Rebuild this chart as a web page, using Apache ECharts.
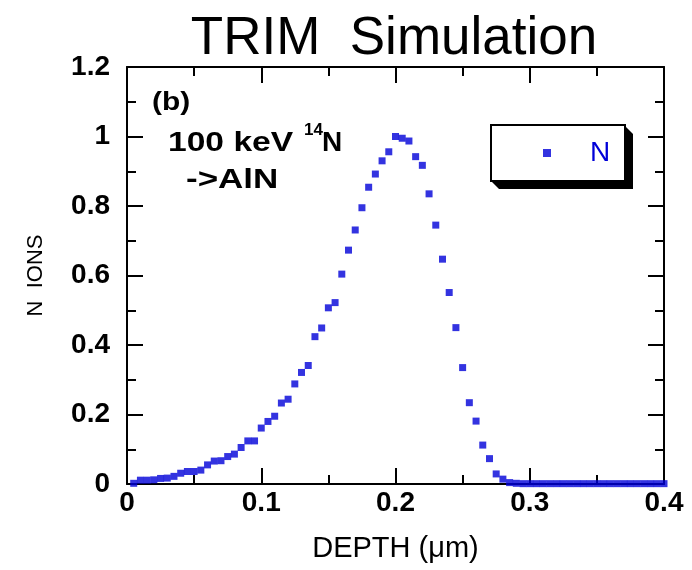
<!DOCTYPE html>
<html>
<head>
<meta charset="utf-8">
<script src="https://cdn.jsdelivr.net/npm/echarts@6/dist/echarts.min.js"></script>
<style>html,body{margin:0;padding:0;background:#fff;}#c{width:692px;height:570px;}</style>
</head>
<body>
<div id="c"></div>
<script>
var depths = [0.005,0.010,0.015,0.020,0.025,0.030,0.035,0.040,0.045,0.050,
  0.055,0.060,0.065,0.070,0.075,0.080,0.085,0.090,0.095,0.100,
  0.105,0.110,0.115,0.120,0.125,0.130,0.135,0.140,0.145,0.150,
  0.155,0.160,0.165,0.170,0.175,0.180,0.185,0.190,0.195,0.200,
  0.205,0.210,0.215,0.220,0.225,0.230,0.235,0.240,0.245,0.250,
  0.255,0.260,0.265,0.270,0.275,0.280,0.285,0.290,0.295,0.300,
  0.305,0.310,0.315,0.320,0.325,0.330,0.335,0.340,0.345,0.350,
  0.355,0.360,0.365,0.370,0.375,0.380,0.385,0.390,0.395,0.400];
var nIons = [0.002,0.011,0.011,0.012,0.016,0.017,0.022,0.031,0.036,0.036,
  0.040,0.055,0.066,0.067,0.079,0.086,0.105,0.124,0.124,0.161,
  0.180,0.195,0.233,0.244,0.288,0.321,0.341,0.424,0.449,0.507,
  0.522,0.604,0.673,0.731,0.795,0.854,0.892,0.930,0.956,1.000,
  0.995,0.987,0.942,0.917,0.835,0.745,0.647,0.551,0.450,0.335,
  0.234,0.181,0.112,0.073,0.029,0.014,0.004,0.002,0.001,0.001,
  0.001,0.001,0.001,0.001,0.001,0.001,0.001,0.001,0.001,0.001,
  0.001,0.001,0.001,0.001,0.001,0.001,0.001,0.001,0.001,0.001];
var xTicks = [0, 0.1, 0.2, 0.3, 0.4];
var yTicks = [0, 0.2, 0.4, 0.6, 0.8, 1, 1.2];

var FONT = 'Liberation Sans, Arial, Helvetica, sans-serif';
var BLUE = '#0000d8';

var points = depths.map(function (d, i) { return [d, nIons[i]]; });

function axisCommon(label) {
  return {
    axisLine: { show: true, onZero: false, lineStyle: { color: '#000', width: 2 } },
    axisTick: { show: true, inside: true, length: 16, lineStyle: { color: '#000', width: 2 } },
    minorTick: { show: true, splitNumber: 2, length: 9, lineStyle: { color: '#000', width: 2 } },
    splitLine: { show: false },
    axisLabel: label
  };
}
function fmt(v) { return String(+v.toFixed(1)); }

var chart = echarts.init(document.getElementById('c'), null, { renderer: 'canvas' });
var option = {
  backgroundColor: '#fff',
  animation: false,
  title: {
    text: 'TRIM  Simulation',
    left: 389, top: 8, textAlign: 'center',
    textStyle: { fontFamily: FONT, fontSize: 53, fontWeight: 'normal', color: '#000' }
  },
  grid: { left: 127, right: 28, top: 67, bottom: 86, containLabel: false },
  legend: {
    left: 543, top: 139,
    padding: 0,
    itemWidth: 8, itemHeight: 8,
    icon: 'rect',
    formatter: '{n|N}',
    textStyle: { rich: { n: { fontFamily: FONT, fontSize: 28, color: BLUE, padding: [0, 0, 0, 34] } } },
    data: ['N']
  },
  xAxis: [
    Object.assign({
      type: 'value', min: 0, max: 0.4, interval: 0.1, position: 'bottom',
      name: 'DEPTH (μm)', nameLocation: 'middle', nameGap: 50,
      nameTextStyle: { fontFamily: FONT, fontSize: 29, color: '#000' }
    }, axisCommon({ show: true, margin: 5, fontFamily: FONT, fontSize: 28, fontWeight: 'bold', color: '#000', formatter: fmt })),
    Object.assign({ type: 'value', min: 0, max: 0.4, interval: 0.1, position: 'top' }, axisCommon({ show: false }))
  ],
  yAxis: [
    Object.assign({
      type: 'value', min: 0, max: 1.2, interval: 0.2, position: 'left',
      name: 'N  IONS', nameLocation: 'middle', nameGap: 80, nameRotate: 90,
      nameTextStyle: { fontFamily: FONT, fontSize: 22, color: '#000' }
    }, axisCommon({ show: true, margin: 17, fontFamily: FONT, fontSize: 28, fontWeight: 'bold', color: '#000', formatter: fmt })),
    Object.assign({ type: 'value', min: 0, max: 1.2, interval: 0.2, position: 'right' }, axisCommon({ show: false }))
  ],
  series: [{
    name: 'N', type: 'scatter', xAxisIndex: 0, yAxisIndex: 0,
    symbol: 'rect', symbolSize: 7, clip: false,
    itemStyle: { color: BLUE },
    data: points
  }],
  graphic: [
    { type: 'polygon', z: 1, shape: { points: [[625, 126], [633, 134], [633, 189], [499, 189], [491, 181], [625, 181]] },
      style: { fill: '#000' } },
    { type: 'rect', z: 2, shape: { x: 491, y: 125, width: 134, height: 56 },
      style: { fill: '#fff', stroke: '#000', lineWidth: 2 } },
    { type: 'text', x: 152, y: 90, scaleX: 1.15, style: { text: '(b)', font: 'bold 26px ' + FONT, fill: '#000', verticalAlign: 'top' } },
    { type: 'text', x: 168, y: 129, scaleX: 1.2, style: { text: '100 keV', font: 'bold 28px ' + FONT, fill: '#000', verticalAlign: 'top' } },
    { type: 'text', x: 304, y: 122, style: { text: '14', font: 'bold 17px ' + FONT, fill: '#000', verticalAlign: 'top' } },
    { type: 'text', x: 322, y: 129, style: { text: 'N', font: 'bold 28px ' + FONT, fill: '#000', verticalAlign: 'top' } },
    { type: 'text', x: 186, y: 166, scaleX: 1.25, style: { text: '->AlN', font: 'bold 28px ' + FONT, fill: '#000', verticalAlign: 'top' } }
  ]
};
chart.setOption(option);
</script>
</body>
</html>
